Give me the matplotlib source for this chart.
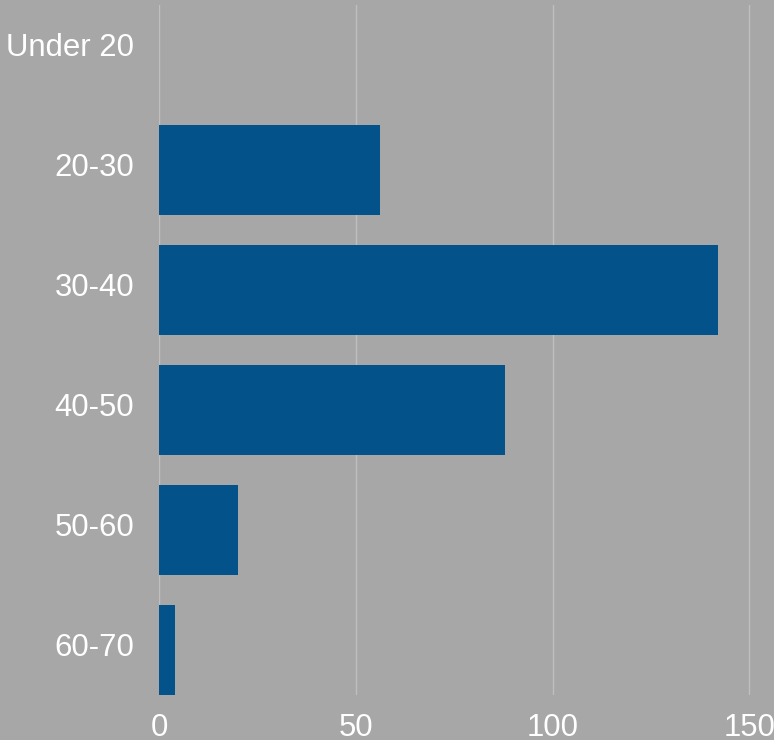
import matplotlib
matplotlib.use("Agg")
import matplotlib.pyplot as plt
from matplotlib.transforms import ScaledTranslation

categories = ["Under 20", "20-30", "30-40", "40-50", "50-60", "60-70"]
values = [0, 56, 142, 88, 20, 4]
xticks = [0, 50, 100, 150]

W, H = 774, 740
fig = plt.figure(figsize=(W / 100, H / 100), dpi=100)
bg = "#a7a7a7"
fig.patch.set_facecolor(bg)

left, right = 159.3, 774
top, bottom = 5, 695
ax = fig.add_axes([left / W, 1 - bottom / H, (right - left) / W, (bottom - top) / H])
ax.set_facecolor(bg)

ypos = list(range(len(categories)))
ax.barh(ypos, values, height=0.75, color="#03528a", zorder=2)
ax.set_ylim(len(categories) - 1 + 0.375, -0.375)
x_per_px = 150 / (749.3 - 159.3)
ax.set_xlim(0, (right - left) * x_per_px)
ax.set_xticks(xticks)
ax.set_xticklabels([str(t) for t in xticks])
ax.set_yticks(ypos)
ax.set_yticklabels(categories)

ax.grid(axis="x", color="#bfbfbf", linewidth=1, zorder=1)
ax.grid(axis="y", visible=False)
for s in ax.spines.values():
    s.set_visible(False)
ax.tick_params(axis="both", length=0, colors="white", labelsize=22.4)
ax.tick_params(axis="y", pad=18)
ax.tick_params(axis="x", pad=13)
shift = ScaledTranslation(0, 5 / 100, fig.dpi_scale_trans)
for lbl in ax.get_xticklabels() + ax.get_yticklabels():
    lbl.set_fontfamily("Liberation Sans")
for lbl in ax.get_yticklabels():
    lbl.set_transform(lbl.get_transform() + shift)

fig.savefig("out.png", dpi=100, facecolor=bg)
